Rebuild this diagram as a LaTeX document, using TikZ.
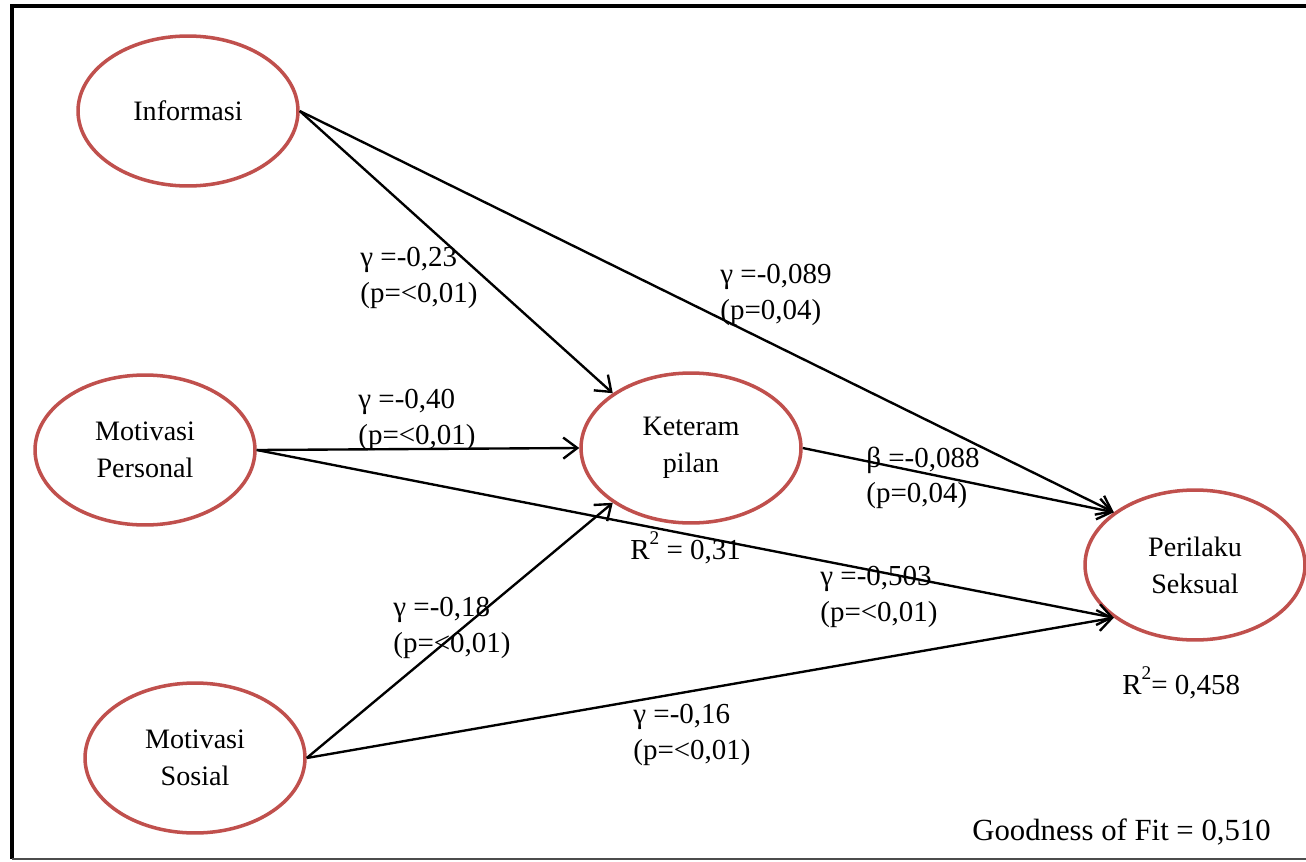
\documentclass[tikz,border=0pt]{standalone}
\usepackage{fontspec}
\setmainfont{Liberation Serif}
\usetikzlibrary{shapes.geometric,arrows.meta}
\definecolor{ellred}{RGB}{192,80,77}
\newcommand{\rsq}{R\raisebox{1.1ex}{\fontsize{11}{11}\selectfont 2}}
\begin{document}
\begin{tikzpicture}[x=0.02cm,y=-0.02cm,
  latent/.style={ellipse,draw=ellred,line width=2pt,minimum width=4.4cm,minimum height=3cm,align=center,font=\fontsize{16}{21}\selectfont,inner sep=0pt},
  path/.style={line width=1.35pt,-{Straight Barb[length=8pt,width=12pt,line width=1.35pt]}},
  lbl/.style={anchor=west,align=left,inner sep=0pt,font=\fontsize{16.5}{20}\selectfont}]
\useasboundingbox (0,0) rectangle (1306,862);
\fill[white] (0,0) rectangle (1306,862);
% frame
\draw[line width=2.4pt,black] (1306,6) -- (12,6) -- (12,859);
\draw[line width=1.2pt,black!70] (12,859) -- (1306,859);
% latent variables
\node[latent] (inf) at (188,111) {Informasi};
\node[latent] (mp) at (145,450) {Motivasi\\Personal};
\node[latent] (ms) at (195,758) {Motivasi\\Sosial};
\node[latent] (ket) at (691,448) {Keteram\\pilan};
\node[latent] (per) at (1195,565) {Perilaku\\Seksual};
% paths
\draw[path] (inf.east) -- (ket.145);
\draw[path] (inf.east) -- (per.147);
\draw[path] (mp.east) -- (ket.west);
\draw[path] (mp.east) -- (per.213);
\draw[path] (ms.east) -- (ket.215);
\draw[path] (ms.east) -- (per.213);
\draw[path] (ket.east) -- (per.147);
% labels
\node[lbl] (l1) at (360,278) {γ =-0,23\\(p=<0,01)};
\node[lbl] (l2) at (720,295) {γ =-0,089\\(p=0,04)};
\node[lbl] (l3) at (358,420) {γ =-0,40\\(p=<0,01)};
\node[lbl] (l4) at (866,478) {β =-0,088\\(p=0,04)};
\node[lbl] (l5) at (630,548) {\rsq\ = 0,31};
\node[lbl] (l6) at (820,597) {γ =-0,503\\(p=<0,01)};
\node[lbl] (l7) at (393,628) {γ =-0,18\\(p=<0,01)};
\node[lbl] (l8) at (633,735) {γ =-0,16\\(p=<0,01)};
\node[lbl] (l9) at (1122,683) {\rsq= 0,458};
\node[lbl,font=\fontsize{17.5}{20}\selectfont] (gof) at (972,832) {Goodness of Fit = 0,510};
\end{tikzpicture}
\end{document}
